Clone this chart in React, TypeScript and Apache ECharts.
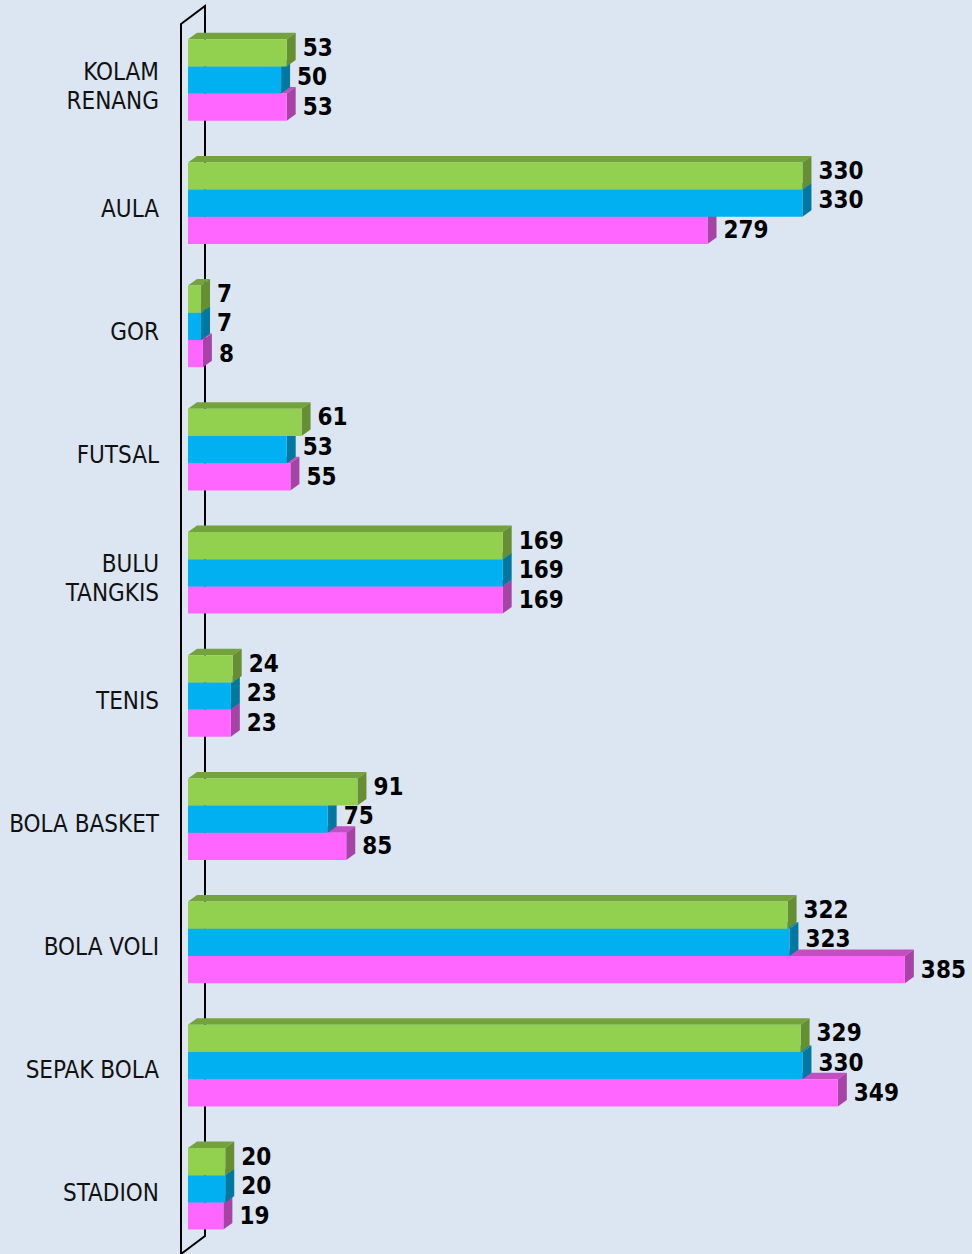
import React, { useEffect, useRef } from "react";
import * as echarts from "echarts";

const categories = [
  "KOLAM\nRENANG",
  "AULA",
  "GOR",
  "FUTSAL",
  "BULU\nTANGKIS",
  "TENIS",
  "BOLA BASKET",
  "BOLA VOLI",
  "SEPAK BOLA",
  "STADION",
];
const greenValues = [53, 330, 7, 61, 169, 24, 91, 322, 329, 20];
const blueValues = [50, 330, 7, 53, 169, 23, 75, 323, 330, 20];
const pinkValues = [53, 279, 8, 55, 169, 23, 85, 385, 349, 19];

const DX = 9;
const DY = 6.5;
const GAP = 0.338;
const FONT = "'DejaVu Sans Condensed', 'DejaVu Sans', sans-serif";

function makeSeries(
  name: string,
  values: number[],
  slot: number,
  front: string,
  topC: string,
  sideC: string,
  labOff: number,
  z: number
) {
  return {
    type: "custom",
    name,
    z,
    xAxisIndex: 0,
    yAxisIndex: 0,
    data: values.map((v, i) => [v, i]),
    encode: { x: 0, y: 1 },
    renderItem: (params: any, api: any) => {
      const val = api.value(0);
      const idx = api.value(1);
      const x0 = api.coord([0, idx])[0];
      const p = api.coord([val, idx]);
      const x1 = p[0];
      const yc = p[1];
      const band = api.size([0, 1])[1];
      const h = (band * (1 - GAP)) / 3;
      const top = yc + (slot - 0.5) * h;
      return {
        type: "group",
        children: [
          {
            type: "polygon",
            shape: {
              points: [
                [x0, top],
                [x0 + DX, top - DY],
                [x1 + DX, top - DY],
                [x1, top],
              ],
            },
            style: { fill: topC },
          },
          {
            type: "polygon",
            shape: {
              points: [
                [x1, top],
                [x1 + DX, top - DY],
                [x1 + DX, top + h - DY],
                [x1, top + h],
              ],
            },
            style: { fill: sideC },
          },
          {
            type: "rect",
            shape: { x: x0, y: top, width: x1 - x0, height: h },
            style: { fill: front },
          },
          {
            type: "text",
            x: x1 + DX + 7,
            y: top + h / 2 + labOff,
            style: {
              text: String(val),
              fill: "#000",
              font: `bold 24px ${FONT}`,
              verticalAlign: "middle",
              align: "left",
            },
          },
        ],
      };
    },
  };
}

export default function App() {
  const ref = useRef<HTMLDivElement>(null);
  useEffect(() => {
    if (!ref.current) return;
    const chart = echarts.init(ref.current, null, { renderer: "svg" });
    chart.setOption({
      animation: false,
      backgroundColor: "#dce6f2",
      grid: [
        { left: 188, top: 18.4, height: 1232, right: 39.2 },
        { left: 188, top: 25, height: 1232, right: 39.2 },
      ],
      xAxis: [
        { type: "value", min: 0, max: 400, show: false, gridIndex: 0 },
        { type: "value", min: 0, max: 400, show: false, gridIndex: 1 },
      ],
      yAxis: [
        {
          type: "category",
          gridIndex: 0,
          data: categories,
          inverse: true,
          axisLine: { show: false },
          axisTick: { show: false },
          splitLine: { show: false },
          axisLabel: { show: false },
        },
        {
          type: "category",
          gridIndex: 1,
          data: categories,
          inverse: true,
          axisLine: { show: false },
          axisTick: { show: false },
          splitLine: { show: false },
          axisLabel: {
            margin: 29,
            color: "#111",
            fontSize: 24,
            fontFamily: FONT,
            lineHeight: 29,
          },
        },
      ],
      graphic: [
        {
          type: "polygon",
          z: 1,
          shape: {
            points: [
              [181, 24],
              [205, 6],
              [205, 1236],
              [181, 1254],
            ],
          },
          style: { fill: "none", stroke: "#000", lineWidth: 2 },
        },
      ],
      series: [
        makeSeries("pink", pinkValues, 1, "#ff66ff", "#c24fc2", "#a743a7", 0, 5),
        makeSeries("blue", blueValues, 0, "#00b0f0", "#0088b8", "#00789f", -3, 6),
        makeSeries("green", greenValues, -1, "#92d050", "#74a23c", "#668f34", -5, 7),
      ],
    });
    return () => chart.dispose();
  }, []);
  return (
    <div
      ref={ref}
      style={{ position: "absolute", left: 0, top: 0, width: 972, height: 1254 }}
    />
  );
}
